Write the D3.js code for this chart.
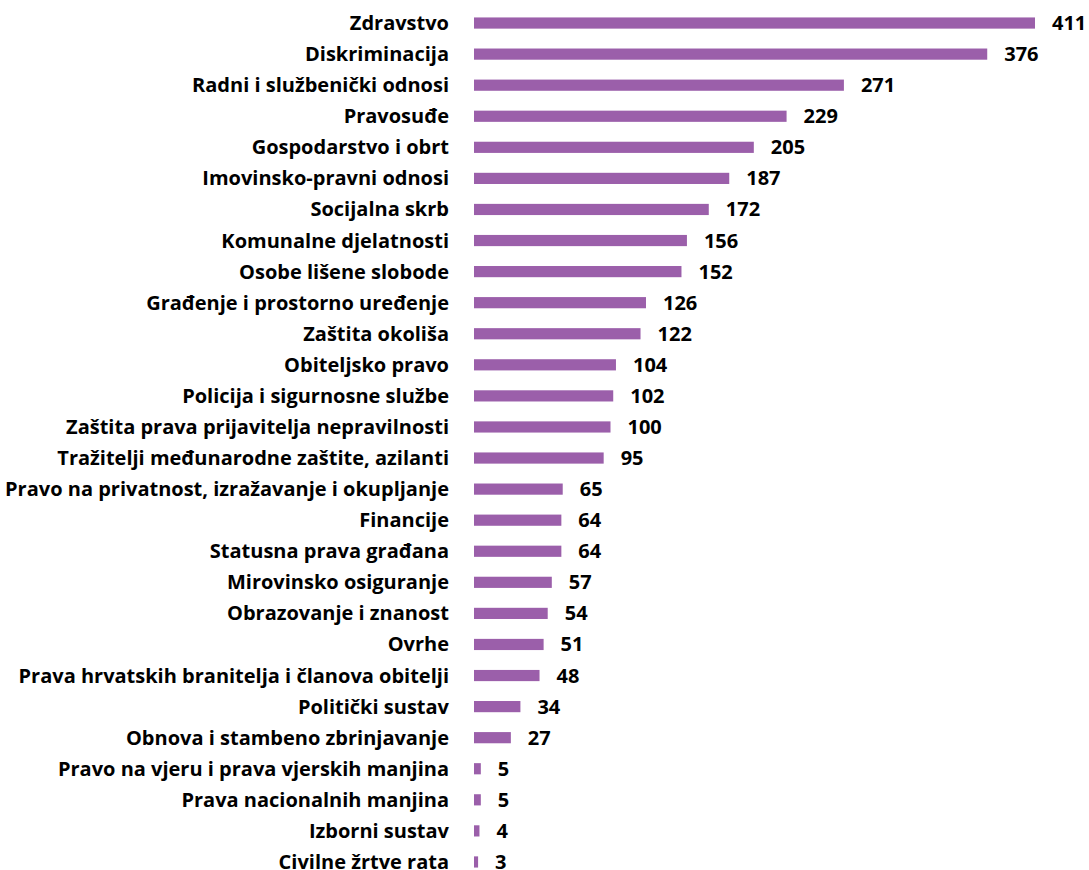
<!DOCTYPE html>
<html>
<head>
<meta charset="utf-8">
<script src="https://cdn.jsdelivr.net/npm/d3@7"></script>
<style>
  html, body { margin: 0; padding: 0; background: #ffffff; }
  svg { display: block; }
  text { font-family: "Open Sans", sans-serif; font-weight: 700; fill: #000; }
</style>
</head>
<body>
<svg id="chart" width="1089" height="870"></svg>
<script>
// Complaint areas, ordered from most to fewest cases
const categories = [
  "Zdravstvo",
  "Diskriminacija",
  "Radni i službenički odnosi",
  "Pravosuđe",
  "Gospodarstvo i obrt",
  "Imovinsko-pravni odnosi",
  "Socijalna skrb",
  "Komunalne djelatnosti",
  "Osobe lišene slobode",
  "Građenje i prostorno uređenje",
  "Zaštita okoliša",
  "Obiteljsko pravo",
  "Policija i sigurnosne službe",
  "Zaštita prava prijavitelja nepravilnosti",
  "Tražitelji međunarodne zaštite, azilanti",
  "Pravo na privatnost, izražavanje i okupljanje",
  "Financije",
  "Statusna prava građana",
  "Mirovinsko osiguranje",
  "Obrazovanje i znanost",
  "Ovrhe",
  "Prava hrvatskih branitelja i članova obitelji",
  "Politički sustav",
  "Obnova i stambeno zbrinjavanje",
  "Pravo na vjeru i prava vjerskih manjina",
  "Prava nacionalnih manjina",
  "Izborni sustav",
  "Civilne žrtve rata"
];

// Number of cases per area
const counts = [411, 376, 271, 229, 205, 187, 172, 156, 152, 126, 122, 104, 102, 100, 95, 65, 64, 64, 57, 54, 51, 48, 34, 27, 5, 5, 4, 3];

const data = categories.map((c, i) => ({ category: c, value: counts[i] }));

const svg = d3.select("#chart");
const barLeft = 474;
const labelRight = 449;

const x = d3.scaleLinear()
  .domain([0, 411])
  .range([barLeft, 1035]);

const y = d3.scaleBand()
  .domain(categories)
  .range([7.5, 877.5])
  .paddingInner(0.64)
  .paddingOuter(0.32);

const fontSize = 20;

// Bars
svg.append("g")
  .selectAll("rect")
  .data(data)
  .join("rect")
  .attr("x", x(0))
  .attr("y", d => y(d.category))
  .attr("width", d => x(d.value) - x(0))
  .attr("height", y.bandwidth())
  .attr("fill", "#9b5faa");

// Category labels, right-aligned against the bars
svg.append("g")
  .selectAll("text")
  .data(data)
  .join("text")
  .attr("x", labelRight)
  .attr("y", d => y(d.category) + y.bandwidth() / 2)
  .attr("dy", "0.35em")
  .attr("text-anchor", "end")
  .style("font-size", fontSize + "px")
  .text(d => d.category);

// Value labels at the end of each bar
svg.append("g")
  .selectAll("text")
  .data(data)
  .join("text")
  .attr("x", d => x(d.value) + 17)
  .attr("y", d => y(d.category) + y.bandwidth() / 2)
  .attr("dy", "0.35em")
  .attr("text-anchor", "start")
  .style("font-size", fontSize + "px")
  .text(d => d.value);
</script>
</body>
</html>
